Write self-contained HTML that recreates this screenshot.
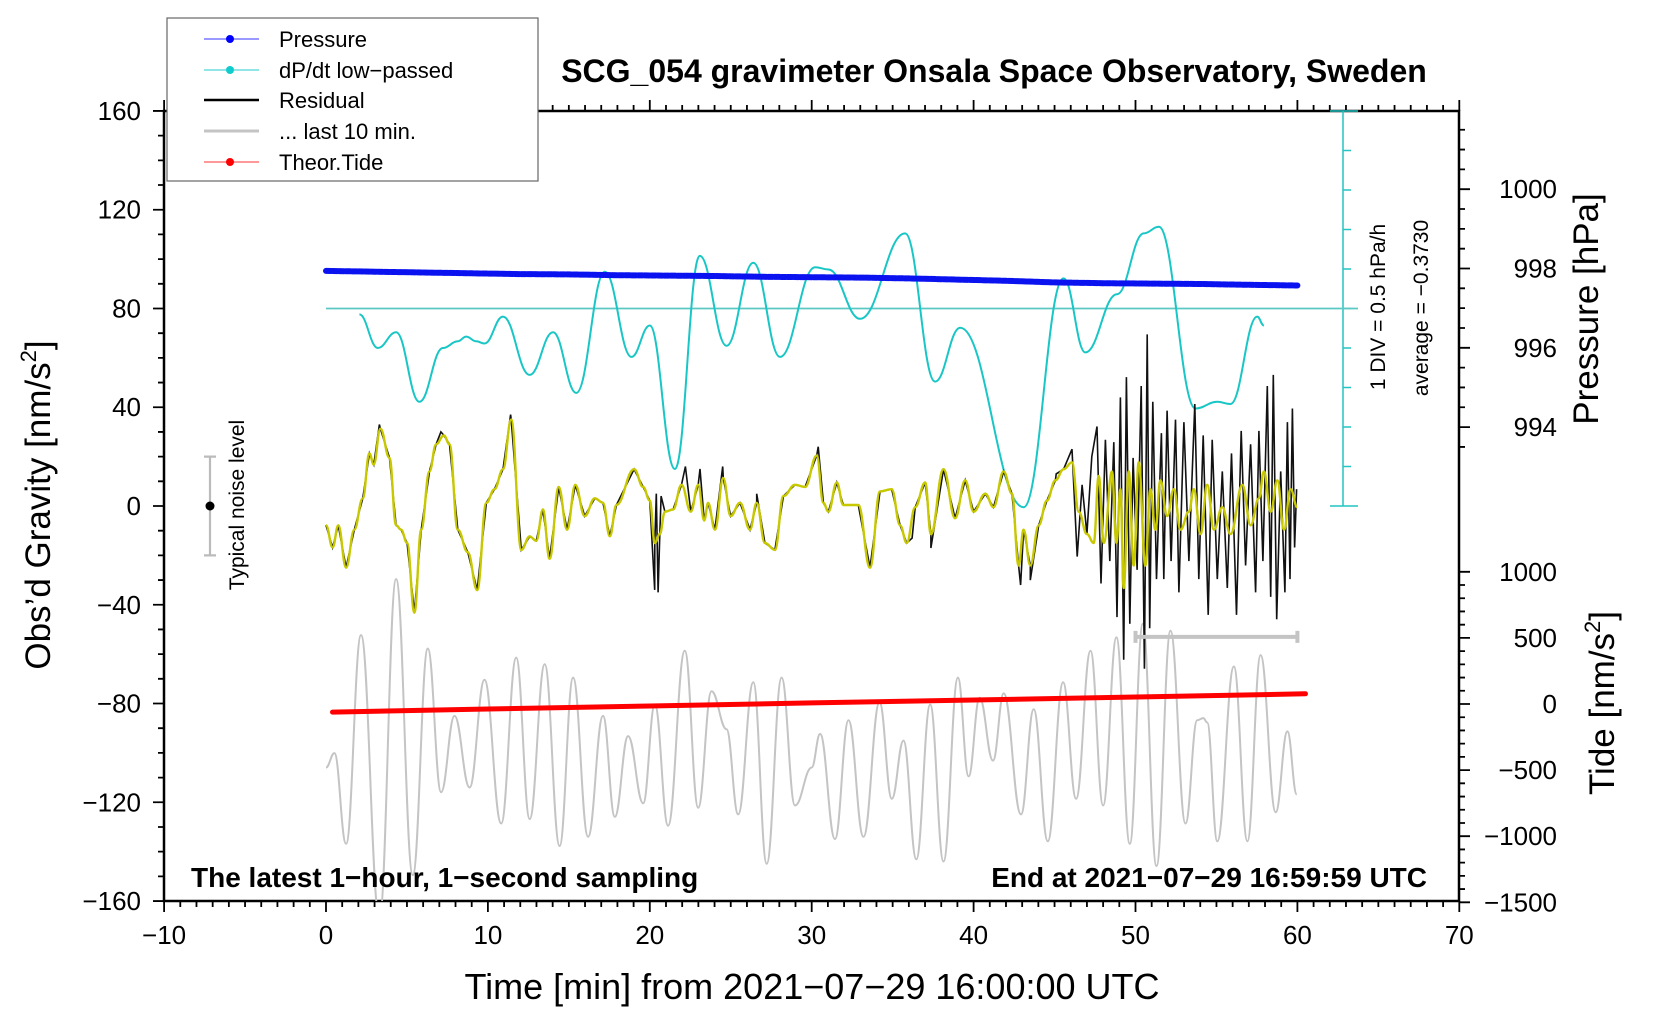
<!DOCTYPE html>
<html><head><meta charset="utf-8"><style>
html,body{margin:0;padding:0;background:#fff;}
svg{display:block;font-family:"Liberation Sans",Arial,sans-serif;}
</style></head><body>
<svg id="chart" width="1660" height="1020" viewBox="0 0 1660 1020" xmlns="http://www.w3.org/2000/svg">
<defs><clipPath id="plotclip"><rect x="164" y="111" width="1295" height="790"/></clipPath></defs>
<g id="axes"></g>
<g id="series" clip-path="url(#plotclip)"></g>
<g id="overlay"></g>
</svg>
<script>
// ---- data ----
const xTicks = [-10,0,10,20,30,40,50,60,70];
const gravTicks = [160,120,80,40,0,-40,-80,-120,-160];
const pressTicks = [1000,998,996,994];
const tideTicks = [1000,500,0,-500,-1000,-1500];

const yellowT = [0,0.41,0.76,1.24,1.75,2.27,2.68,2.95,3.36,3.92,4.33,4.64,5.01,5.46,5.88,6.39,6.8,7.28,7.63,8.14,8.76,9.34,9.9,10.41,10.93,11.44,12.06,12.58,12.99,13.4,13.81,14.37,14.89,15.4,15.98,16.6,17.11,17.53,17.94,19.03,19.59,20.0,20.31,20.62,20.93,21.44,21.96,22.53,22.99,23.36,23.6,24.02,24.54,24.99,25.57,26.19,26.6,27.11,27.73,28.25,28.97,29.59,30.31,30.72,31.03,31.55,31.95,32.88,33.6,34.22,34.94,35.46,35.87,36.39,37.01,37.36,38.14,38.86,39.48,40.0,40.72,41.23,41.85,42.37,42.78,43.09,43.5,44.02,44.53,45.05,45.56,46.08,46.49,47.0,47.42,47.73,48.04,48.55,48.82,49.07,49.27,49.58,49.89,50.2,50.61,50.92,51.23,51.54,51.96,52.37,52.78,53.3,53.6,54.02,54.43,54.84,55.36,55.87,56.6,57.11,57.62,57.93,58.35,58.76,59.17,59.58,59.99];
const yellowV = [-7.8,-16.8,-7.8,-25,-9.6,3.1,21.3,16.8,31.3,19.5,-7.8,-9.6,-15,-43.2,-9.6,14,25,28.6,25,-9.6,-18.7,-34.1,1.3,6.8,14.9,35,-17.8,-12.3,-14.1,-1.4,-21.4,7.7,-9.6,8.6,-4.1,3.1,1.3,-12.3,0.4,14.9,7.7,2.2,-15,-11.4,-2.3,-1.4,8.6,-2.3,8.6,-5.9,1.3,-9.6,11.3,-4.1,1.3,-9.6,1.3,-15,-17.8,4,8.6,7.7,20.4,1.3,-2.3,9.5,0.4,0.4,-25,5.9,6.8,-7.8,-15,-0.5,9.5,-11.4,14.9,-5,10.4,-2.3,5,-0.5,14,5,-24.1,-9.6,-24.1,-7.8,2.2,10.4,14.9,17.7,-2.3,-11.4,-15,12.2,-15,14,-15,6.8,-33.2,14,-24.1,17.7,-24.1,6.8,-9.6,10.4,-4.1,6.8,-9.6,-2.3,6.8,-11.4,8.6,-9.6,-0.5,-11.4,8.6,-7.8,3.1,14,-2.3,10.4,-9.6,6.8,-0.5];

const spikeT = [3.3,7.1,11.4,20.3,20.4,20.51,20.7,22.2,23.1,24.5,26.6,30.4,36.2,37.36,42.9,43.5,45.1,46.08,46.4,46.7,47.0,47.3,47.62,47.87,48.14,48.41,48.66,48.86,49.07,49.27,49.44,49.65,49.85,50.1,50.35,50.55,50.72,50.88,51.07,51.3,51.6,51.75,51.95,52.2,52.47,52.68,52.99,53.3,53.66,53.91,54.18,54.49,54.74,55.05,55.36,55.67,55.93,56.24,56.53,56.8,57.11,57.42,57.62,57.87,58.14,58.35,58.51,58.72,58.97,59.23,59.38,59.54,59.69,59.83,59.95];
const spikeV = [33,30,37,-34,5,-35,4,16,15,16,5,24,-13,-17,-32,-30,13,23,-20.5,8.6,-11.4,20,32.2,-31.4,26.8,-22.3,25.9,-45,44,-62.3,52.2,-47.7,19.5,-25.9,48.6,-65.9,69.5,-49.5,42.2,-29.6,29.5,-29.6,38.6,-22.3,35,-35,34,-22.3,41.3,-29.6,28.6,-44.1,26.8,-29.6,14,-33.2,21.3,-44.1,30.4,-24.1,25,-35,30.4,-22.3,48.6,-36.8,53.1,-45.9,14,-35,34,-29.6,39.5,-16.8,6.8];

const grayT = [0,0.52,1.24,2.16,3.3,4.33,5.36,6.29,7.11,7.94,8.87,9.79,10.82,11.75,12.58,13.51,14.43,15.26,16.19,17.11,17.84,18.66,19.59,20.31,21.13,22.16,22.99,23.81,24.74,25.46,26.39,27.22,28.14,28.97,30.0,30.52,31.44,32.27,33.2,34.19,34.95,35.67,36.46,37.32,38.14,39.03,39.69,40.37,41.2,41.86,42.93,43.71,44.58,45.53,46.33,47.22,48.0,48.82,49.65,50.45,51.3,52.16,53.09,53.81,54.19,54.43,55.05,56.08,56.91,57.73,58.66,59.38,59.96];
const grayV = [-105.9,-100.1,-136.8,-52.3,-166.7,-29.6,-149.5,-57.7,-115.9,-85,-114,-70.4,-128.6,-61.4,-126.8,-64.1,-137.7,-69.5,-134,-85,-125.9,-93.2,-120.4,-80.4,-129.5,-58.6,-122.2,-75,-90.4,-124.9,-71.4,-144.9,-69.5,-121.3,-105.9,-92.3,-134.9,-86.8,-134,-79.5,-118.6,-95,-143.1,-80.4,-144,-69.5,-109.5,-77.7,-103.1,-75.9,-124.9,-82.3,-135.8,-71.4,-118.6,-58.6,-121.3,-53.2,-136.8,-47.7,-145.8,-50.5,-128.6,-86.8,-85.9,-87.7,-135.8,-65,-135.8,-60.4,-124,-91.3,-116.8];

const dpdtT = [2.06,3.2,4.33,5.77,7.22,8.14,8.66,9.28,9.79,10.93,12.58,14.02,15.46,17.22,18.87,20.0,21.55,23.09,24.74,26.39,28.04,30.21,31.03,32.99,35.77,37.62,39.17,43.09,45.56,46.9,48.86,50.51,51.44,53.71,55.05,55.87,57.52,57.93];
const dpdtV = [77.6,64,70.4,42.2,64,66.7,68.6,66.7,65.8,76.7,53.1,70.4,45.8,94.9,60.4,73.1,15,101.3,64.9,98.5,60.4,96.7,95.8,75.8,110.4,50.4,72.2,-0.5,92.2,62.2,85.8,110.4,113.1,39.5,42.2,41.3,76.7,73.1];

const pressT = [0,3,6,9,12,15,18,21,24,27,30,33,36,39,42,45,48,51,54,57,60];
const pressV = [997.94,997.92,997.9,997.88,997.86,997.85,997.83,997.82,997.81,997.79,997.78,997.77,997.75,997.72,997.69,997.65,997.63,997.62,997.61,997.59,997.57];

const tideT = [0.4,10,20,30,40,50,60.5];
const tideV = [-61,-38,-15,8,30,53,77];

// ---- scales ----
const X = t => 326 + t*16.19;
const YG = v => 506 - v*2.469;
const YP = p => 189.2 + (1000-p)*39.65;
const YT = n => 704 - n*0.1322;
const NS = "http://www.w3.org/2000/svg";
const axes = document.getElementById('axes');
const series = document.getElementById('series');
const overlay = document.getElementById('overlay');
function mk(tag, attrs, parent, text){
  const e = document.createElementNS(NS, tag);
  for (const k in attrs) e.setAttribute(k, attrs[k]);
  if (text !== undefined) e.textContent = text;
  parent.appendChild(e); return e;
}
function smoothPath(ts, vs, yf){
  let d = 'M' + X(ts[0]).toFixed(1) + ',' + yf(vs[0]).toFixed(1);
  for (let i=1;i<ts.length;i++){
    const x0=X(ts[i-1]), x1=X(ts[i]), y0=yf(vs[i-1]), y1=yf(vs[i]);
    const dx=(x1-x0)/2.4;
    d += ' C'+(x0+dx).toFixed(1)+','+y0.toFixed(1)+' '+(x1-dx).toFixed(1)+','+y1.toFixed(1)+' '+x1.toFixed(1)+','+y1.toFixed(1);
  }
  return d;
}
function linePath(ts, vs, yf){
  return ts.map((t,i)=>(i?'L':'M')+X(t).toFixed(1)+','+yf(vs[i]).toFixed(1)).join(' ');
}

// ---- frame and ticks ----
let e;
e = mk('rect',{x:164,y:111,width:1295,height:790,fill:'none',stroke:'#000','stroke-width':2.5},axes);


let tk = '';
for (let t=-10;t<=70;t++){
  const L = (t%10===0)?11:6;
  tk += 'M'+X(t)+',901 v'+L+' M'+X(t)+',111 v'+(-L)+' ';
}
for (let v=-160; v<=160; v+=10){
  const L = (v%40===0)?11:6;
  tk += 'M164,'+YG(v)+' h'+(-L)+' ';
}
for (let n=-1500;n<=1000;n+=100){
  const L = (n%500===0)?11:6;
  tk += 'M1459,'+YT(n)+' h'+L+' ';
}
for (let p=993.5;p<=1001.9;p+=0.5){
  const L = (Math.abs(p%2)<0.01)?11:6;
  tk += 'M1459,'+YP(p)+' h'+L+' ';
}
e = mk('path',{d:tk,stroke:'#000','stroke-width':1.8,fill:'none'},axes);



xTicks.forEach(t=>{
  const el = mk('text',{x:X(t),y:944,'font-size':26,'text-anchor':'middle'},axes,String(t).replace('-','\u2212'));
  
  
});
gravTicks.forEach(v=>{
  const el = mk('text',{x:141,y:YG(v)+9,'font-size':26,'text-anchor':'end'},axes,String(v).replace('-','\u2212'));
  
  
});
pressTicks.forEach(p=>{
  const el = mk('text',{x:1557,y:YP(p)+9,'font-size':26,'text-anchor':'end'},axes,String(p));
  
  
});
tideTicks.forEach(n=>{
  const el = mk('text',{x:1557,y:YT(n)+9,'font-size':26,'text-anchor':'end'},axes,String(n).replace('-','\u2212'));
  
  
});

// ---- dP/dt reference axis ----
let ct = 'M1343,111 V506 M1330,506 H1358 M1330,111 H1358 ';
for (let k=1;k<10;k++) ct += 'M1343,'+(506-k*39.5)+' h8 ';
e = mk('path',{d:ct,stroke:'#22c4c4','stroke-width':1.5,fill:'none'},axes);


e = mk('line',{x1:X(0),x2:1358,y1:YG(80),y2:YG(80),stroke:'#5cc8c4','stroke-width':1.8},axes);



// ---- series ----
e = mk('path',{d:smoothPath(grayT,grayV,YG),stroke:'#c4c4c4','stroke-width':2,fill:'none'},series);


e = mk('path',{d:smoothPath(dpdtT,dpdtV,YG),stroke:'#19c6c6','stroke-width':2,fill:'none'},series);


e = mk('path',{d:linePath(pressT,pressV,YP),stroke:'#0a12f0','stroke-width':6,fill:'none','stroke-linecap':'round','stroke-dasharray':'5 1.5'},series);


// black residual = yellow (early) merged with spikes
const bl = [];
yellowT.forEach((t,i)=>{ if (t<46) bl.push([t,yellowV[i]]); });
spikeT.forEach((t,i)=>bl.push([t,spikeV[i]]));
bl.sort((a,b)=>a[0]-b[0]);
e = mk('path',{d:linePath(bl.map(p=>p[0]),bl.map(p=>p[1]),YG),stroke:'#111','stroke-width':1.6,fill:'none'},series);


e = mk('path',{d:smoothPath(yellowT,yellowV,YG),stroke:'#c8c800','stroke-width':2.4,fill:'none'},series);


e = mk('path',{d:linePath(tideT,tideV,YT),stroke:'#ff0000','stroke-width':5,fill:'none','stroke-linecap':'round'},series);



// last-10-min bar
e = mk('path',{d:'M'+X(50)+','+YG(-53)+' H'+X(60)+' M'+X(50)+','+(YG(-53)-6)+' v12 M'+X(60)+','+(YG(-53)-6)+' v12',stroke:'#c4c4c4','stroke-width':4,fill:'none'},series);



// noise level bar
e = mk('path',{d:'M210,'+YG(20)+' V'+YG(-20)+' M204,'+YG(20)+' h12 M204,'+YG(-20)+' h12',stroke:'#bbb','stroke-width':2.2,fill:'none'},overlay);


e = mk('circle',{cx:210,cy:YG(0),r:4.5,fill:'#000'},overlay);


</script>
<div style="position:absolute;left:0;top:0;width:1660px;height:1020px;pointer-events:none">
<svg width="1660" height="1020" xmlns="http://www.w3.org/2000/svg" style="font-family:'Liberation Sans',Arial,sans-serif">
<text x="994" y="82" font-size="32" font-weight="bold" text-anchor="middle">SCG_054 gravimeter Onsala Space Observatory, Sweden</text>
<text x="812" y="999" font-size="36" text-anchor="middle">Time [min] from 2021−07−29 16:00:00 UTC</text>
<text transform="translate(50,505) rotate(-90)" font-size="35" text-anchor="middle">Obs’d Gravity [nm/s<tspan font-size="22" dy="-14">2</tspan><tspan dy="14">]</tspan></text>
<text transform="translate(1598,309) rotate(-90)" font-size="35" text-anchor="middle">Pressure [hPa]</text>
<text transform="translate(1614,703) rotate(-90)" font-size="35" text-anchor="middle">Tide [nm/s<tspan font-size="22" dy="-14">2</tspan><tspan dy="14">]</tspan></text>
<text transform="translate(1385,307) rotate(-90)" font-size="21" text-anchor="middle">1 DIV = 0.5 hPa/h</text>
<text transform="translate(1428,308) rotate(-90)" font-size="21" text-anchor="middle">average = −0.3730</text>
<text transform="translate(244,505) rotate(-90)" font-size="21" text-anchor="middle">Typical noise level</text>
<text x="191" y="887" font-size="28" font-weight="bold">The latest 1−hour, 1−second sampling</text>
<text x="1427" y="887" font-size="28" font-weight="bold" text-anchor="end">End at 2021−07−29 16:59:59 UTC</text>
<g>
<rect x="167" y="18" width="371" height="163" fill="#fff" stroke="#666" stroke-width="1.2"/>
<g><line x1="204" x2="259" y1="39" y2="39" stroke="#3333ff" stroke-width="1"/><circle cx="230" cy="39" r="4" fill="#0000ff"/><text x="279" y="47" font-size="22">Pressure</text></g>
<g><line x1="204" x2="259" y1="70" y2="70" stroke="#22cccc" stroke-width="1"/><circle cx="230" cy="70" r="4" fill="#11cccc"/><text x="279" y="78" font-size="22">dP/dt low−passed</text></g>
<g><line x1="204" x2="259" y1="100" y2="100" stroke="#000" stroke-width="2.5"/><text x="279" y="108" font-size="22">Residual</text></g>
<g><line x1="204" x2="259" y1="131" y2="131" stroke="#c4c4c4" stroke-width="3"/><text x="279" y="139" font-size="22">... last 10 min.</text></g>
<g><line x1="204" x2="259" y1="162" y2="162" stroke="#ff3333" stroke-width="1"/><circle cx="230" cy="162" r="4" fill="#ff0000"/><text x="279" y="170" font-size="22">Theor.Tide</text></g>
</g>
</svg>
</div>
</body></html>
